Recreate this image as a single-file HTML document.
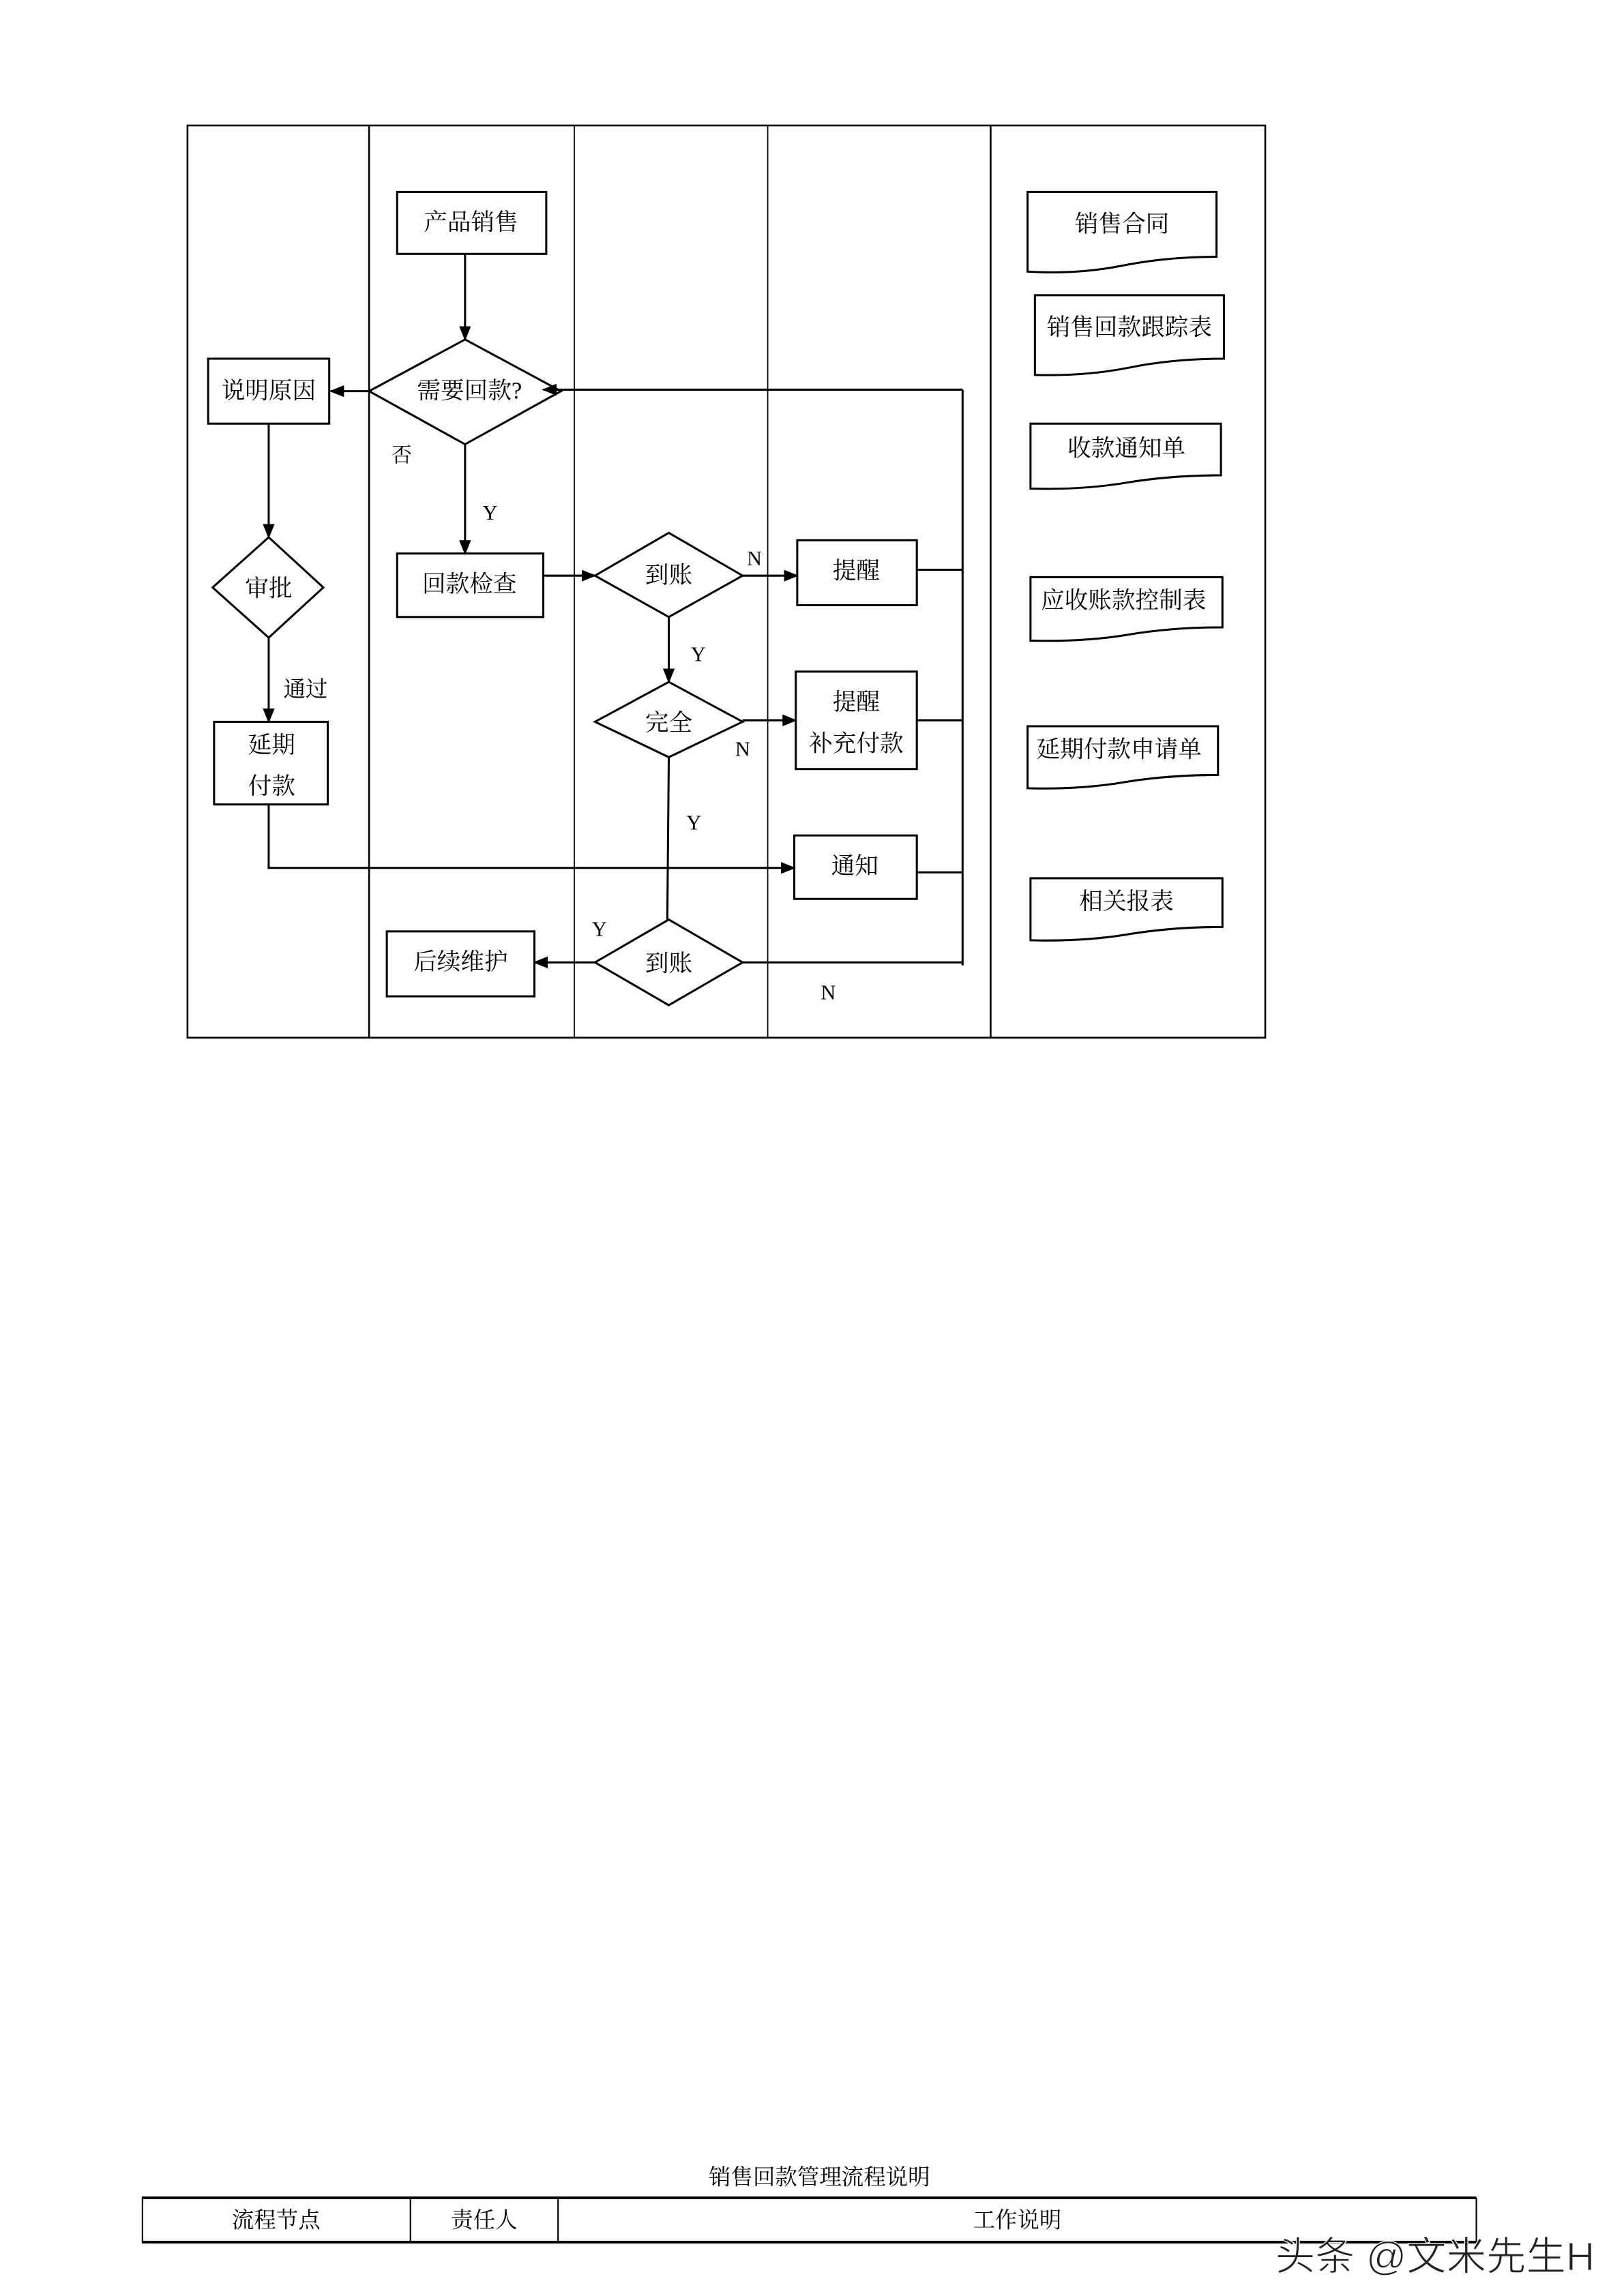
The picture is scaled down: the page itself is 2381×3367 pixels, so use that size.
<!DOCTYPE html>
<html><head><meta charset="utf-8">
<style>
html,body{margin:0;padding:0;background:#fff;}
svg{display:block;}
text{font-family:"Liberation Serif","Noto Serif CJK SC",serif;fill:#000;}
</style></head>
<body>
<svg width="2381" height="3367" viewBox="0 0 1100 1555.5" preserveAspectRatio="none" xmlns="http://www.w3.org/2000/svg">
<defs>
<marker id="a" markerWidth="10" markerHeight="10" refX="9" refY="5" orient="auto" markerUnits="userSpaceOnUse">
<path d="M0,1 L10,5 L0,9 Z" fill="#000"/>
</marker>
</defs>
<g fill="none" stroke="#000" stroke-width="1.2">
<rect x="127" y="85" width="730" height="618"/>
<line x1="250" y1="85" x2="250" y2="703"/>
<line x1="389" y1="85" x2="389" y2="703" stroke-width="0.8"/>
<line x1="520" y1="85" x2="520" y2="703" stroke-width="0.8"/>
<line x1="671" y1="85" x2="671" y2="703"/>
</g>
<g fill="#fff" stroke="#000" stroke-width="1.4">
<rect x="269" y="130" width="101" height="42"/>
<polygon points="250,265 315,230 380,265 315,301"/>
<rect x="141" y="243" width="82" height="44"/>
<polygon points="144,398 182,364 219,398 182,432"/>
<rect x="145" y="489" width="77" height="56"/>
<rect x="269" y="375" width="99" height="43"/>
<polygon points="403,390 453,361 503,390 453,418"/>
<polygon points="403,489 453,462 503,489 453,513"/>
<polygon points="403,652 453,623 503,652 453,681"/>
<rect x="540" y="366" width="81" height="44"/>
<rect x="539" y="455" width="82" height="66"/>
<rect x="538" y="566" width="83" height="43"/>
<rect x="262" y="631" width="100" height="44"/>
</g>
<g fill="none" stroke="#000" stroke-width="1.4">
<line x1="315" y1="172" x2="315" y2="230" marker-end="url(#a)"/>
<line x1="250" y1="265" x2="224" y2="265" marker-end="url(#a)"/>
<line x1="315" y1="301" x2="315" y2="375" marker-end="url(#a)"/>
<line x1="368" y1="390" x2="403" y2="390" marker-end="url(#a)"/>
<line x1="503" y1="390" x2="540" y2="390" marker-end="url(#a)"/>
<line x1="621" y1="386" x2="652" y2="386"/>
<line x1="652" y1="264" x2="652" y2="654"/>
<line x1="652" y1="264" x2="368" y2="264" marker-end="url(#a)"/>
<line x1="453" y1="418" x2="453" y2="462" marker-end="url(#a)"/>
<line x1="503" y1="488" x2="539" y2="488" marker-end="url(#a)"/>
<line x1="621" y1="488" x2="652" y2="488"/>
<line x1="453" y1="513" x2="452" y2="623"/>
<line x1="621" y1="591" x2="652" y2="591"/>
<polyline points="182,545 182,588 538,588" marker-end="url(#a)"/>
<line x1="182" y1="287" x2="182" y2="364" marker-end="url(#a)"/>
<line x1="182" y1="432" x2="182" y2="489" marker-end="url(#a)"/>
<line x1="503" y1="652" x2="652" y2="652"/>
<line x1="403" y1="652" x2="362" y2="652" marker-end="url(#a)"/>
</g>
<g fill="#fff" stroke="#000" stroke-width="1.4">
<path d="M696,130 H824 V174 Q790,174 760,180 T696,184 Z"/>
<path d="M701,200 H829 V243 Q795,243 765,249 T701,254 Z"/>
<path d="M698,287 H827 V322 Q793,322 763,327 T698,331 Z"/>
<path d="M698,391 H828 V425 Q794,425 764,430 T698,434 Z"/>
<path d="M696,492 H825 V525 Q791,525 761,530 T696,534 Z"/>
<path d="M698,595 H828 V628 Q794,628 764,633 T698,637 Z"/>
</g>
<g font-size="16" text-anchor="middle">
<text x="319" y="156">产品销售</text>
<text x="318" y="270">需要回款?</text>
<text x="182" y="270">说明原因</text>
<text x="182" y="404">审批</text>
<text x="184" y="510">延期</text>
<text x="184" y="538">付款</text>
<text x="318" y="401">回款检查</text>
<text x="453" y="395">到账</text>
<text x="453" y="495">完全</text>
<text x="453" y="658">到账</text>
<text x="580" y="392">提醒</text>
<text x="580" y="481">提醒</text>
<text x="580" y="509">补充付款</text>
<text x="579" y="592">通知</text>
<text x="312" y="657">后续维护</text>
<text x="760" y="157">销售合同</text>
<text x="765" y="227">销售回款跟踪表</text>
<text x="763" y="309">收款通知单</text>
<text x="761" y="412">应收账款控制表</text>
<text x="758" y="513">延期付款申请单</text>
<text x="763" y="616">相关报表</text>
</g>
<g font-size="14" text-anchor="middle">
<text x="272" y="313">否</text>
<text x="332" y="352">Y</text>
<text x="511" y="383">N</text>
<text x="473" y="448">Y</text>
<text x="503" y="512">N</text>
<text x="470" y="562">Y</text>
<text x="207" y="472" font-size="15">通过</text>
<text x="406" y="634">Y</text>
<text x="561" y="677">N</text>
</g>
<text x="555" y="1480" font-size="15" text-anchor="middle">销售回款管理流程说明</text>
<g fill="none" stroke="#000">
<line x1="96" y1="1489" x2="1000" y2="1489" stroke-width="1.8"/>
<line x1="96" y1="1519" x2="1000" y2="1519" stroke-width="1.8"/>
<line x1="96.5" y1="1489" x2="96.5" y2="1519" stroke-width="1"/>
<line x1="278" y1="1489" x2="278" y2="1519" stroke-width="1"/>
<line x1="378" y1="1489" x2="378" y2="1519" stroke-width="1"/>
<line x1="1000" y1="1489" x2="1000" y2="1519" stroke-width="1"/>
</g>
<g font-size="15" text-anchor="middle">
<text x="187" y="1509">流程节点</text>
<text x="328" y="1509">责任人</text>
<text x="689" y="1509">工作说明</text>
</g>
<text x="972" y="1538" font-size="27" text-anchor="middle" style="font-family:'Liberation Sans','Noto Sans CJK SC',sans-serif;fill:#222;" stroke="#fff" stroke-width="0.6">头条 @文米先生H</text>
</svg>
</body></html>
